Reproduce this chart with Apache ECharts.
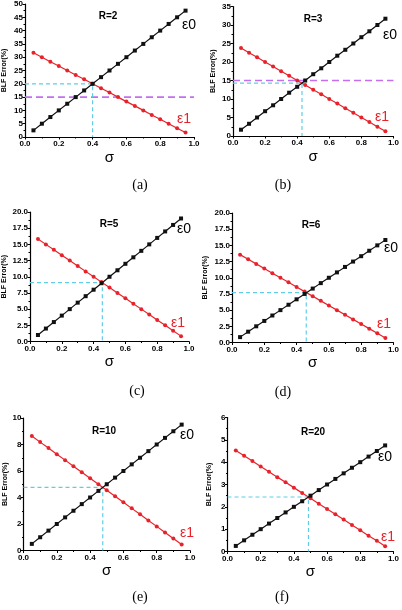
<!DOCTYPE html>
<html><head><meta charset="utf-8">
<script src="https://cdn.jsdelivr.net/npm/echarts@6/dist/echarts.min.js"></script>
<style>html,body{margin:0;padding:0;background:#fff}#c{width:402px;height:610px}</style>
</head><body><div id="c"></div>
<script>
const sigma = [0.05,0.10,0.15,0.20,0.25,0.30,0.35,0.40,0.45,0.50,0.55,0.60,0.65,0.70,0.75,0.80,0.85,0.90,0.95];
const panelNames = ['R=2','R=3','R=5','R=6','R=10','R=20'];
const panelLetters = ['(a)','(b)','(c)','(d)','(e)','(f)'];
const e0_R2 = [2.5,5.0,7.5,10.0,12.5,15.0,17.5,20.0,22.5,25.0,27.5,30.0,32.5,35.0,37.5,40.0,42.5,45.0,47.5];
const e1_R2 = [31.7,30.0,28.3,26.7,25.0,23.3,21.7,20.0,18.3,16.7,15.0,13.3,11.7,10.0,8.3,6.7,5.0,3.3,1.7];
const e0_R3 = [1.7,3.3,5.0,6.7,8.3,10.0,11.7,13.3,15.0,16.7,18.3,20.0,21.7,23.3,25.0,26.7,28.3,30.0,31.7];
const e1_R3 = [23.8,22.5,21.3,20.0,18.8,17.5,16.3,15.0,13.8,12.5,11.3,10.0,8.8,7.5,6.3,5.0,3.8,2.5,1.3];
const e0_R5 = [1,2,3,4,5,6,7,8,9,10,11,12,13,14,15,16,17,18,19];
const e1_R5 = [15.83,15.0,14.17,13.33,12.5,11.67,10.83,10.0,9.17,8.33,7.5,6.67,5.83,5.0,4.17,3.33,2.5,1.67,0.83];
const e0_R6 = [0.83,1.67,2.5,3.33,4.17,5.0,5.83,6.67,7.5,8.33,9.17,10.0,10.83,11.67,12.5,13.33,14.17,15.0,15.83];
const e1_R6 = [13.57,12.86,12.14,11.43,10.71,10.0,9.29,8.57,7.86,7.14,6.43,5.71,5.0,4.29,3.57,2.86,2.14,1.43,0.71];
const e0_R10 = [0.5,1.0,1.5,2.0,2.5,3.0,3.5,4.0,4.5,5.0,5.5,6.0,6.5,7.0,7.5,8.0,8.5,9.0,9.5];
const e1_R10 = [8.64,8.18,7.73,7.27,6.82,6.36,5.91,5.45,5.0,4.55,4.09,3.64,3.18,2.73,2.27,1.82,1.36,0.91,0.45];
const e0_R20 = [0.25,0.5,0.75,1.0,1.25,1.5,1.75,2.0,2.25,2.5,2.75,3.0,3.25,3.5,3.75,4.0,4.25,4.5,4.75];
const e1_R20 = [4.52,4.29,4.05,3.81,3.57,3.33,3.10,2.86,2.62,2.38,2.14,1.90,1.67,1.43,1.19,0.95,0.71,0.48,0.24];
const crossSigma = [0.40,0.43,0.455,0.46,0.476,0.488];
const crossErr = [20,14.3,9.1,7.7,4.76,2.44];
const purpleLevel = [15,15,null,null,null,null];
const yMax = [50,35,20,20,10,6];
const yInterval = [5,5,2.5,2.5,2,1];
const yDecimals = [0,0,1,1,0,0];

const e0All = [e0_R2,e0_R3,e0_R5,e0_R6,e0_R10,e0_R20];
const e1All = [e1_R2,e1_R3,e1_R5,e1_R6,e1_R10,e1_R20];

// layout (pixels)
const L = [
  {left:25,top:4,w:169,h:133, nameGap:17, title:[108,16], eps0:[189,25], eps1:[184,119], letter:[140,185]},
  {left:233,top:6.5,w:163,h:129.5, nameGap:16, title:[313,19], eps0:[390,35], eps1:[382,117], letter:[283,185]},
  {left:28.5,top:212,w:160.5,h:129.5, nameGap:22, title:[109,224], eps0:[184,229], eps1:[178,323], letter:[137,391]},
  {left:232,top:213,w:165.5,h:129.5, nameGap:23, title:[311,225], eps0:[391,248], eps1:[384,324], letter:[283,392]},
  {left:23.5,top:418,w:166.5,h:132.5, nameGap:13, title:[104,431], eps0:[187,435], eps1:[187,533], letter:[140,597]},
  {left:227.5,top:417.5,w:166,h:134, nameGap:15, title:[313,432], eps0:[385,457], eps1:[388,537], letter:[282,597]}
];

const RED = '#e8222a', BLK = '#111111', CYAN = '#5fcde8', PURP = '#c46ff0';
const grids=[], xAxes=[], yAxes=[], series=[], graphics=[];
for (let i=0;i<6;i++){
  const g=L[i];
  grids.push({left:g.left, top:g.top, width:g.w, height:g.h, containLabel:false});
  xAxes.push({type:'value', gridIndex:i, min:0, max:1, interval:0.2,
    name:'σ', nameLocation:'middle', nameGap:13,
    nameTextStyle:{fontSize:15, color:'#000', fontFamily:'Liberation Sans'},
    axisLine:{lineStyle:{color:'#000', width:1.2}},
    axisTick:{show:true, length:2.5, inside:false, lineStyle:{color:'#000'}},
    minorTick:{show:true, splitNumber:2, length:1.5, lineStyle:{color:'#000'}},
    splitLine:{show:false},
    axisLabel:{fontSize:8, fontWeight:'bold', color:'#000', margin:3, fontFamily:'Liberation Sans',
      formatter:v=>v.toFixed(1)}
  });
  yAxes.push({type:'value', gridIndex:i, min:0, max:yMax[i], interval:yInterval[i],
    name:'BLF Error(%)', nameLocation:'middle', nameGap:g.nameGap, nameRotate:90,
    nameTextStyle:{fontSize:7, fontWeight:'bold', color:'#000', fontFamily:'Liberation Sans'},
    axisLine:{show:true, lineStyle:{color:'#000', width:1.2}},
    axisTick:{show:true, length:2.5, lineStyle:{color:'#000'}},
    minorTick:{show:true, splitNumber:2, length:1.5, lineStyle:{color:'#000'}},
    splitLine:{show:false},
    axisLabel:{fontSize:8, fontWeight:'bold', color:'#000', margin:2, fontFamily:'Liberation Sans',
      formatter:v=>v.toFixed(yDecimals[i])}
  });
  if (purpleLevel[i]!==null){
    series.push({type:'line', xAxisIndex:i, yAxisIndex:i, data:[[0,purpleLevel[i]],[1,purpleLevel[i]]],
      symbol:'none', silent:true, z:1, lineStyle:{color:PURP, width:1.6, type:[7,4]}});
  }
  series.push({type:'line', xAxisIndex:i, yAxisIndex:i,
    data:[[0,crossErr[i]],[crossSigma[i],crossErr[i]],[crossSigma[i],0]],
    symbol:'none', silent:true, z:1, lineStyle:{color:CYAN, width:1.2, type:[4,3]}});
  series.push({type:'line', xAxisIndex:i, yAxisIndex:i,
    data:sigma.map((s,k)=>[s,e1All[i][k]]), symbol:'circle', symbolSize:4,
    itemStyle:{color:RED}, lineStyle:{color:RED, width:1.2}, z:3});
  series.push({type:'line', xAxisIndex:i, yAxisIndex:i,
    data:sigma.map((s,k)=>[s,e0All[i][k]]), symbol:'rect', symbolSize:4,
    itemStyle:{color:BLK}, lineStyle:{color:BLK, width:1.2}, z:4});
  graphics.push({type:'text', x:g.title[0], y:g.title[1], style:{text:panelNames[i], fontSize:10, fontWeight:'bold',
    fill:'#000', fontFamily:'Liberation Sans', textAlign:'center', textVerticalAlign:'middle'}});
  graphics.push({type:'text', x:g.eps0[0], y:g.eps0[1], style:{text:'ε0', fontSize:14,
    fill:'#000', fontFamily:'Liberation Sans', textAlign:'center', textVerticalAlign:'middle'}});
  graphics.push({type:'text', x:g.eps1[0], y:g.eps1[1], style:{text:'ε1', fontSize:14,
    fill:RED, fontFamily:'Liberation Sans', textAlign:'center', textVerticalAlign:'middle'}});
  graphics.push({type:'text', x:g.letter[0], y:g.letter[1], style:{text:panelLetters[i], fontSize:14,
    fill:'#000', fontFamily:'Liberation Serif', textAlign:'center', textVerticalAlign:'middle'}});
}
const chart = echarts.init(document.getElementById('c'), null, {renderer:'canvas'});
chart.setOption({animation:false, backgroundColor:'#fff', grid:grids, xAxis:xAxes, yAxis:yAxes, series:series, graphic:graphics});
</script></body></html>
